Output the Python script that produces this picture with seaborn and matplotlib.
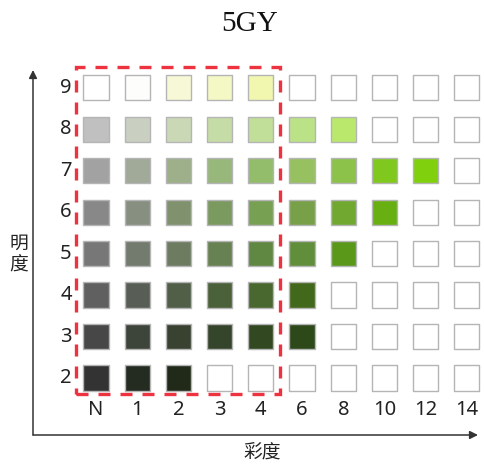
import matplotlib
matplotlib.use("Agg")
import matplotlib.pyplot as plt
import seaborn as sns
import pandas as pd
from matplotlib.patches import Rectangle

sns.set_theme(style="white")
plt.rcParams['font.family'] = ['Noto Sans CJK SC', 'DejaVu Sans']

title = "5GY"
chroma_labels = ["N", "1", "2", "3", "4", "6", "8", "10", "12", "14"]
value_labels = [9, 8, 7, 6, 5, 4, 3, 2]
x_label = "彩度"
y_label = "明度"

# colours per value row (None = no sample, drawn as empty square)
row_9 = ["#ffffff", "#fdfdfb", "#f6f8d6", "#f4f8c4", "#f1f7ae", None, None, None, None, None]
row_8 = ["#c0c0c0", "#c9d0c1", "#cbd8b6", "#c6dca6", "#c1df98", "#bce288", "#b9e86c", None, None, None]
row_7 = ["#a2a2a2", "#a1a999", "#9db08a", "#98b77a", "#93bc6b", "#97c160", "#8cc24a", "#80c81e", "#80d00e", None]
row_6 = ["#888888", "#879080", "#80916e", "#7b9a60", "#78a052", "#78a048", "#70a830", "#68b012", None, None]
row_5 = ["#777777", "#737a6e", "#6d7c60", "#688152", "#618842", "#618e3a", "#5a981a", None, None, None]
row_4 = ["#606060", "#585e55", "#515e48", "#4b613a", "#486830", "#42681c", None, None, None, None]
row_3 = ["#474747", "#3d453a", "#394131", "#35452c", "#314821", "#2d4819", None, None, None, None]
row_2 = ["#333333", "#242c21", "#212a18", None, None, None, None, None, None, None]
rows = [row_9, row_8, row_7, row_6, row_5, row_4, row_3, row_2]

records = []
for v, row in zip(value_labels, rows):
    for i, c in enumerate(row):
        records.append({"chroma": i, "value": v, "color": c if c else "#ffffff"})
df = pd.DataFrame(records)
palette = {c: c for c in df["color"].unique()}

fig = plt.figure(figsize=(4.85, 4.66), dpi=100)
ax = fig.add_axes([33 / 485, 1 - 435 / 466, (478 - 33) / 485, (435 - 70) / 466])

sns.scatterplot(data=df, x="chroma", y="value", hue="color", palette=palette,
                marker="s", s=330, edgecolor="#b5b5b5", linewidth=1.0,
                legend=False, ax=ax, zorder=3, clip_on=False)

ax.set_xlim(-1.53, 9.27)
ax.set_ylim(0.624, 9.43)
ax.set_xlabel("")
ax.set_ylabel("")
ax.set_xticks([])
ax.set_yticks([])
for s in ax.spines.values():
    s.set_visible(False)

# axis arrows
arrow_kw = dict(arrowstyle="-|>", color="#333333", lw=1.1, mutation_scale=12,
                shrinkA=0, shrinkB=0)
ax.annotate("", xy=(0, 1.0), xytext=(0, 0), xycoords="axes fraction",
            textcoords="axes fraction", arrowprops=arrow_kw, annotation_clip=False)
ax.annotate("", xy=(1.0, 0), xytext=(0, 0), xycoords="axes fraction",
            textcoords="axes fraction", arrowprops=arrow_kw, annotation_clip=False)

# tick labels
for i, lab in enumerate(chroma_labels):
    ax.text(i, 1.23, lab, ha="center", va="center", fontsize=14.5, color="#222222",
            family=["Noto Sans", "DejaVu Sans"])
for v in value_labels:
    ax.text(-0.73, v, str(v), ha="center", va="center", fontsize=14.5, color="#222222",
            family=["Noto Sans", "DejaVu Sans"])

# red dashed frame
rect = Rectangle((-0.485, 1.614), 4.47 + 0.485, 9.507 - 1.614, fill=False,
                 edgecolor="#ee3340", lw=2.4, linestyle=(0, (3.6, 3.0)), zorder=4,
                 clip_on=False)
ax.add_patch(rect)

fig.text(250 / 485, 1 - 24 / 466, title, ha="center", va="center", fontsize=21,
         family=["Liberation Serif", "DejaVu Serif"], color="#111111")
fig.text(262 / 485, 1 - 452 / 466, x_label, ha="center", va="center", fontsize=13.5,
         color="#222222")
fig.text(19 / 485, 1 - 254 / 466, "明\n度", ha="center", va="center", fontsize=13.5,
         color="#222222", linespacing=1.05)

fig.savefig("out.png", dpi=100)
